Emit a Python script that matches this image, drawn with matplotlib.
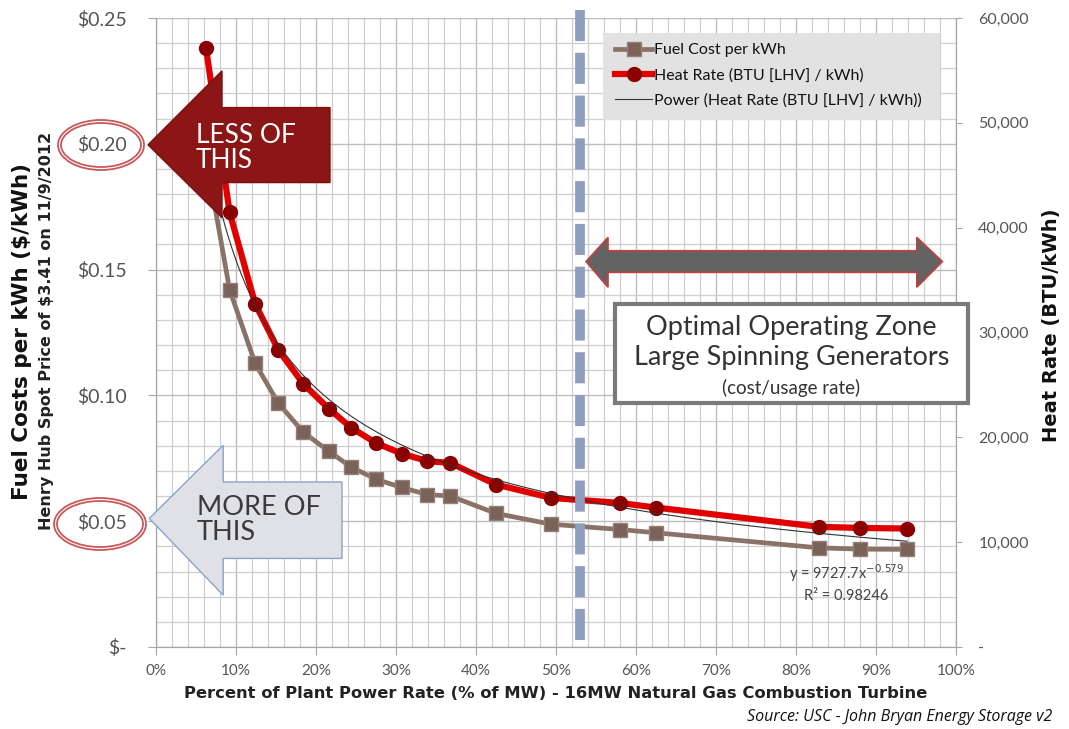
import numpy as np
import matplotlib
matplotlib.use('Agg')
import matplotlib.pyplot as plt
from matplotlib.patches import Polygon, Rectangle, Ellipse

# percent of plant power rate (% of MW)
pct = [6.25, 9.2, 12.4, 15.3, 18.4, 21.6, 24.4, 27.5, 30.7, 33.9, 36.8,
       42.5, 49.4, 58.0, 62.5, 82.9, 88.0, 93.9]
# fuel cost ($/kWh), left axis
fuel_cost = [0.195, 0.142, 0.1127, 0.0969, 0.0854, 0.0778, 0.0715, 0.0667,
             0.0634, 0.0606, 0.0600, 0.0531, 0.0488, 0.0467, 0.0454, 0.0394,
             0.0389, 0.0388]
# heat rate (BTU [LHV] / kWh), right axis
heat_rate = [57170, 41460, 32730, 28330, 25110, 22730, 20920, 19460, 18450,
             17740, 17550, 15500, 14220, 13740, 13300, 11460, 11360, 11300]
# power trendline shown on the chart: y = a * x^b
trend_a, trend_b = 9727.7, -0.579

x_ticks = list(range(0, 101, 10))
cost_ticks = [0, 0.05, 0.10, 0.15, 0.20, 0.25]
heat_ticks = [0, 10000, 20000, 30000, 40000, 50000, 60000]

W, H = 1069, 729
tick_font = 'Lato'
bold_font = 'DejaVu Sans'

fig = plt.figure(figsize=(W / 100, H / 100), dpi=100)
ax = fig.add_axes([156 / W, 1 - 647 / H, 800 / W, 629 / H])
ax2 = ax.twinx()

ax.set_xlim(0, 100)
ax.set_ylim(0, 0.25)
ax2.set_ylim(0, 60000)

ax.set_xticks(x_ticks)
ax.set_xticks(np.arange(0, 101, 2), minor=True)
ax.set_xticklabels([f'{t}%' for t in x_ticks], fontfamily=tick_font)
ax.set_yticks(cost_ticks)
ax.set_yticks(np.arange(0, 0.2501, 0.01), minor=True)
ax.set_yticklabels(['\\$-'] + [f'\\${t:.2f}' for t in cost_ticks[1:]], fontfamily=tick_font)
ax2.set_yticks(heat_ticks)
ax2.set_yticklabels(['-'] + [f'{t:,}' for t in heat_ticks[1:]], fontfamily=tick_font)

ax.grid(which='minor', color='#cfcfcf', lw=0.9)
ax.grid(which='major', color='#bdbdbd', lw=1.0)
ax.set_axisbelow(True)

for a in (ax, ax2):
    for s in a.spines.values():
        s.set_color('#a6a6a6')
    a.spines['top'].set_visible(False)

ax.tick_params(axis='y', which='major', length=6, color='#a6a6a6', labelsize=14,
               labelcolor='#555555', pad=15)
ax.tick_params(axis='x', which='major', length=6, color='#a6a6a6', labelsize=11,
               labelcolor='#555555', pad=6)
ax.tick_params(which='minor', length=0)
ax2.tick_params(axis='y', which='major', length=4, color='#a6a6a6', labelsize=11.5,
                labelcolor='#555555', pad=12)

l1, = ax.plot(pct, fuel_cost, color='#8a7266', lw=3.4, marker='s', ms=10,
              mfc='#7a6258', mec='#94807a', zorder=3, label='Fuel Cost per kWh')
l2, = ax2.plot(pct, heat_rate, color='#e00000', lw=4.5, marker='o', ms=10,
               mfc='#8b0000', mec='#8b0000', zorder=3,
               label='Heat Rate (BTU [LHV] / kWh)')
tx = np.linspace(pct[0], pct[-1], 300)
l3, = ax2.plot(tx, trend_a * (tx / 100) ** trend_b, color='#333333', lw=0.8,
               zorder=4, label='Power (Heat Rate (BTU [LHV] / kWh))')

# optimal zone divider
ax2.axvline(53, ymin=0.011, ymax=1.016, color='#8d9ebf', lw=7,
            ls=(0, (3.2, 1.2)), clip_on=False, zorder=6)

# legend with grey box
ax2.add_patch(Rectangle((0.559, 0.838), 0.421, 0.138, transform=ax2.transAxes,
                        facecolor='#e2e2e2', edgecolor='none', zorder=8))
leg = ax2.legend(handles=[l1, l2, l3], loc='upper left',
                 bbox_to_anchor=(0.574, 0.96), frameon=False, borderpad=0,
                 borderaxespad=0, handlelength=2.3, handletextpad=0.15,
                 labelspacing=0.68, prop={'family': tick_font, 'size': 11.5})
for t in leg.get_texts():
    t.set_color('#111111')
leg.set_zorder(9)

tr = ax.transData
# LESS OF THIS arrow
ax2.add_patch(Polygon([(-1.0, 0.1996), (8.25, 0.229), (8.25, 0.2144), (21.75, 0.2144),
                       (21.75, 0.1846), (8.25, 0.1846), (8.25, 0.1706)],
                      closed=True, transform=tr, facecolor='#8c1515',
                      edgecolor='#7a1010', lw=1, zorder=10, clip_on=False))
ax2.text(5.0, 0.1985, 'LESS OF\nTHIS', transform=tr, color='white', fontsize=19,
         fontfamily=tick_font, ha='left', va='center', linespacing=1.0, zorder=11)

# MORE OF THIS arrow
ax2.add_patch(Polygon([(-0.84, 0.0511), (8.4, 0.0802), (8.4, 0.0656), (23.25, 0.0656),
                       (23.25, 0.0352), (8.4, 0.0352), (8.4, 0.0206)],
                      closed=True, transform=tr, facecolor='#dfe1e6',
                      edgecolor='#8aa4cc', lw=1, zorder=10, clip_on=False))
ax2.text(5.1, 0.0505, 'MORE OF\nTHIS', transform=tr, color='#3a3a3a', fontsize=19.5,
         fontfamily=tick_font, ha='left', va='center', linespacing=1.0, zorder=11)

# double arrow over the optimal zone
ax2.add_patch(Polygon([(53.75, 0.1532), (56.5, 0.1628), (56.5, 0.1575), (95.1, 0.1575),
                       (95.1, 0.1628), (98.3, 0.1532), (95.1, 0.1430), (95.1, 0.1489),
                       (56.5, 0.1489), (56.5, 0.1430)],
                      closed=True, transform=tr, facecolor='#636363',
                      edgecolor='#c24040', lw=1.2, zorder=10, clip_on=False))

# optimal zone box
ax2.add_patch(Rectangle((57.4, 0.0968), 44.1, 0.0397, transform=tr,
                        facecolor='white', edgecolor='#7a7a7a', lw=3, zorder=10,
                        clip_on=False))
ax2.text(79.4, 0.1268, 'Optimal Operating Zone', transform=tr, ha='center',
         va='center', fontsize=19.5, fontfamily=tick_font,
         color='#333333', zorder=11)
ax2.text(79.4, 0.1149, 'Large Spinning Generators', transform=tr, ha='center',
         va='center', fontsize=19.5, fontfamily=tick_font,
         color='#333333', zorder=11)
ax2.text(79.4, 0.1028, '(cost/usage rate)', transform=tr, ha='center',
         va='center', fontsize=13.5, fontfamily=tick_font,
         color='#333333', zorder=11)

# trendline equation
ax2.text(86.3, 0.0294, 'y = 9727.7x$^{-0.579}$', transform=tr, ha='center',
         va='center', fontsize=10.5, fontfamily=tick_font, color='#444444', zorder=11)
ax2.text(86.3, 0.0202, 'R² = 0.98246', transform=tr, ha='center',
         va='center', fontsize=10.5, fontfamily=tick_font, color='#444444', zorder=11)

# circles around $0.20 and $0.05
for cx, cy, ew, eh in [(101, 145, 86, 50), (100, 524, 92, 52)]:
    for d in (0, 6):
        fig.add_artist(Ellipse((cx / W, 1 - cy / H), (ew - d) / W, (eh - d) / H,
                               transform=fig.transFigure, fill=False,
                               edgecolor='#c9585a', lw=1.3))

# axis titles
fig.text(22 / W, 1 - 331 / H, 'Fuel Costs per kWh (\\$/kWh)', rotation=90,
         ha='center', va='center', fontsize=15.5, fontweight='bold',
         fontfamily=bold_font, color='#111111')
fig.text(47 / W, 1 - 331 / H, 'Henry Hub Spot Price of \\$3.41 on 11/9/2012',
         rotation=90, ha='center', va='center', fontsize=11.5, fontweight='bold',
         fontfamily=bold_font, color='#222222')
fig.text(1052 / W, 1 - 325 / H, 'Heat Rate (BTU/kWh)', rotation=90,
         ha='center', va='center', fontsize=14, fontweight='bold',
         fontfamily=bold_font, color='#111111')
fig.text(556 / W, 1 - 694 / H,
         'Percent of Plant Power Rate (% of MW) - 16MW Natural Gas Combustion Turbine',
         ha='center', va='center', fontsize=11.8, fontweight='bold',
         fontfamily=bold_font, color='#222222')
fig.text(1052 / W, 1 - 717 / H, 'Source: USC - John Bryan Energy Storage v2',
         ha='right', va='center', fontsize=11.5, style='italic',
         fontfamily='Open Sans', color='#111111')

fig.savefig('out.png', dpi=100)
